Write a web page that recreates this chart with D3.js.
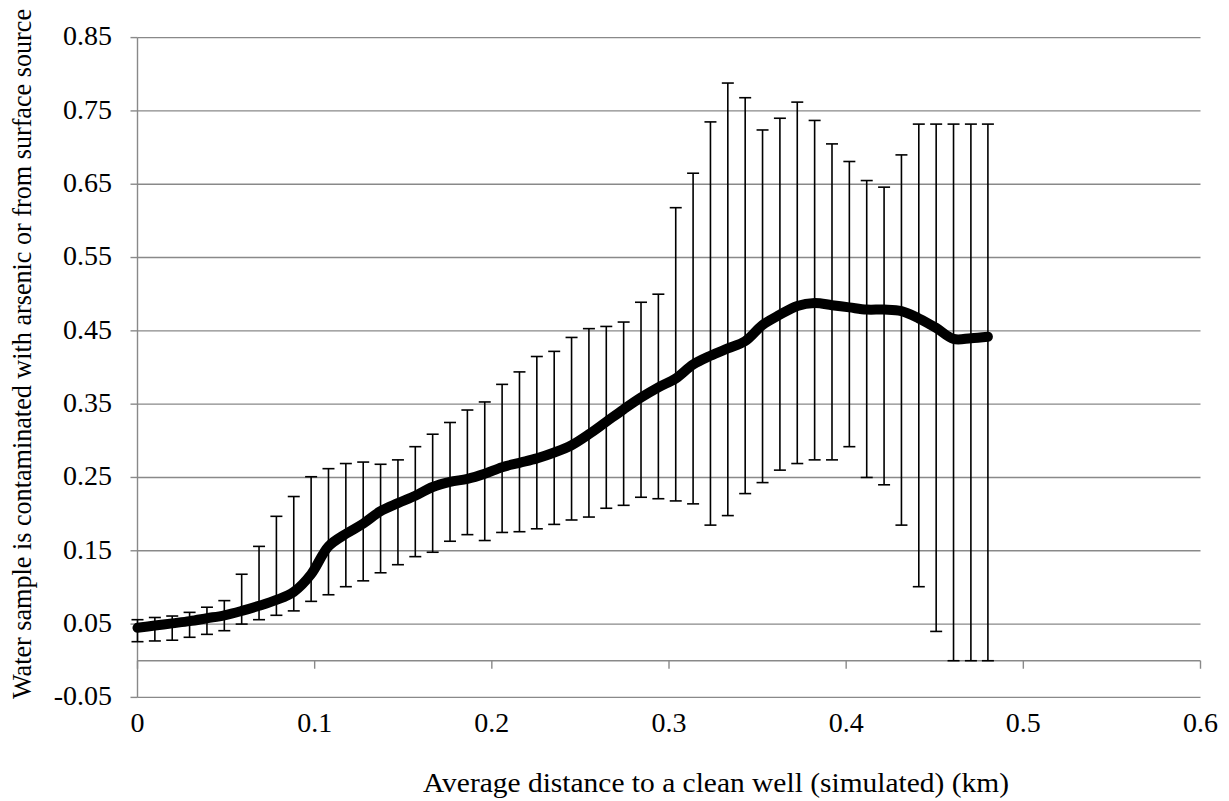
<!DOCTYPE html>
<html>
<head>
<meta charset="utf-8">
<script src="https://cdn.jsdelivr.net/npm/d3@7"></script>
<style>
body { margin: 0; background: #fff; }
svg text { font-family: "Liberation Serif", Tinos, "Times New Roman", "DejaVu Serif", serif; fill: #000; }
</style>
</head>
<body>
<svg id="chart" width="1229" height="801"></svg>
<script>
// average distance to a clean well (km), one point per simulation step
var distance = [0, 0.0098, 0.0196, 0.0294, 0.0392, 0.049, 0.0588, 0.0686, 0.0784, 0.0882,
	0.098, 0.1078, 0.1176, 0.1274, 0.1372, 0.147, 0.1568, 0.1666, 0.1764, 0.1862,
	0.196, 0.2058, 0.2156, 0.2254, 0.2352, 0.245, 0.2548, 0.2646, 0.2744, 0.2842,
	0.294, 0.3038, 0.3136, 0.3234, 0.3332, 0.343, 0.3528, 0.3626, 0.3724, 0.3822,
	0.392, 0.4018, 0.4116, 0.4214, 0.4312, 0.441, 0.4508, 0.4606, 0.4704, 0.48];

// share of contaminated samples
var meanValue = [0.045, 0.048, 0.051, 0.054, 0.058, 0.062, 0.068, 0.075, 0.083, 0.094,
	0.118, 0.156, 0.173, 0.187, 0.204, 0.215, 0.225, 0.237, 0.244, 0.248,
	0.255, 0.264, 0.270, 0.276, 0.284, 0.294, 0.309, 0.326, 0.343, 0.359,
	0.373, 0.385, 0.404, 0.416, 0.426, 0.436, 0.458, 0.472, 0.484, 0.488,
	0.485, 0.482, 0.479, 0.479, 0.477, 0.467, 0.454, 0.439, 0.440, 0.442];

// error bar ends
var upperValue = [0.056, 0.059, 0.061, 0.066, 0.073, 0.082, 0.118, 0.156, 0.197, 0.224,
	0.251, 0.262, 0.269, 0.271, 0.268, 0.274, 0.292, 0.309, 0.325, 0.342,
	0.353, 0.377, 0.394, 0.415, 0.422, 0.441, 0.453, 0.456, 0.462, 0.489,
	0.500, 0.618, 0.665, 0.735, 0.788, 0.768, 0.724, 0.740, 0.762, 0.737,
	0.705, 0.681, 0.655, 0.646, 0.690, 0.732, 0.732, 0.732, 0.732, 0.732];
var lowerValue = [0.026, 0.027, 0.028, 0.032, 0.036, 0.041, 0.050, 0.056, 0.062, 0.068,
	0.081, 0.090, 0.101, 0.109, 0.120, 0.131, 0.142, 0.148, 0.163, 0.172,
	0.164, 0.175, 0.176, 0.180, 0.186, 0.192, 0.196, 0.208, 0.212, 0.223,
	0.221, 0.218, 0.214, 0.185, 0.198, 0.228, 0.243, 0.260, 0.269, 0.274,
	0.274, 0.292, 0.250, 0.240, 0.185, 0.101, 0.040, 0.000, 0.000, 0.000];

var xTicks = [0, 0.1, 0.2, 0.3, 0.4, 0.5, 0.6];
var xTickLabels = ["0", "0.1", "0.2", "0.3", "0.4", "0.5", "0.6"];
var yTicks = [-0.05, 0.05, 0.15, 0.25, 0.35, 0.45, 0.55, 0.65, 0.75, 0.85];
var yTickLabels = ["-0.05", "0.05", "0.15", "0.25", "0.35", "0.45", "0.55", "0.65", "0.75", "0.85"];

var xTitle = "Average distance to a clean well (simulated) (km)";
var yTitle = "Water sample is contaminated with arsenic or from surface source";

var svg = d3.select("#chart");
var plotLeft = 137.5, plotRight = 1200.5, plotTop = 37.6, plotBottom = 697.4;
var gridColor = "#898989";
var serif = "'Liberation Serif', Tinos, 'Times New Roman', 'DejaVu Serif', serif";

var x = d3.scaleLinear().domain([0, 0.6]).range([plotLeft, plotRight]);
var y = d3.scaleLinear().domain([-0.05, 0.85]).range([plotBottom, plotTop]);

// horizontal gridlines
svg.append("g").selectAll("line").data(yTicks).enter().append("line")
	.attr("x1", plotLeft).attr("x2", plotRight)
	.attr("y1", function(d) { return y(d); }).attr("y2", function(d) { return y(d); })
	.attr("stroke", gridColor).attr("stroke-width", 1.4);

// y axis line + ticks on the left
svg.append("line").attr("x1", plotLeft).attr("x2", plotLeft).attr("y1", plotTop).attr("y2", plotBottom)
	.attr("stroke", gridColor).attr("stroke-width", 1.4);
svg.append("g").selectAll("line").data(yTicks).enter().append("line")
	.attr("x1", plotLeft - 7).attr("x2", plotLeft)
	.attr("y1", function(d) { return y(d); }).attr("y2", function(d) { return y(d); })
	.attr("stroke", gridColor).attr("stroke-width", 1.4);
svg.append("g").selectAll("text").data(yTicks).enter().append("text")
	.attr("x", 112).attr("y", function(d) { return y(d) - 2; })
	.attr("dy", "0.35em").attr("text-anchor", "end")
	.attr("font-family", serif).attr("font-size", 28)
	.text(function(d, i) { return yTickLabels[i]; });

// x axis sits at zero, ticks hang down
svg.append("line").attr("x1", plotLeft).attr("x2", plotRight).attr("y1", y(0)).attr("y2", y(0))
	.attr("stroke", gridColor).attr("stroke-width", 1.4);
svg.append("g").selectAll("line").data(xTicks).enter().append("line")
	.attr("x1", function(d) { return x(d); }).attr("x2", function(d) { return x(d); })
	.attr("y1", y(0)).attr("y2", y(0) + 8)
	.attr("stroke", gridColor).attr("stroke-width", 1.4);
svg.append("g").selectAll("text").data(xTicks).enter().append("text")
	.attr("x", function(d) { return x(d); }).attr("y", 722)
	.attr("dy", "0.35em").attr("text-anchor", "middle")
	.attr("font-family", serif).attr("font-size", 28)
	.text(function(d, i) { return xTickLabels[i]; });

// error bars
var bars = svg.append("g").selectAll("g").data(distance).enter().append("g");
bars.append("line")
	.attr("x1", function(d) { return x(d); }).attr("x2", function(d) { return x(d); })
	.attr("y1", function(d, i) { return y(lowerValue[i]); })
	.attr("y2", function(d, i) { return y(upperValue[i]); })
	.attr("stroke", "#000").attr("stroke-width", 1.6);
bars.append("line")
	.attr("x1", function(d) { return x(d) - 6; }).attr("x2", function(d) { return x(d) + 6; })
	.attr("y1", function(d, i) { return y(upperValue[i]); })
	.attr("y2", function(d, i) { return y(upperValue[i]); })
	.attr("stroke", "#000").attr("stroke-width", 1.6);
bars.append("line")
	.attr("x1", function(d) { return x(d) - 6; }).attr("x2", function(d) { return x(d) + 6; })
	.attr("y1", function(d, i) { return y(lowerValue[i]); })
	.attr("y2", function(d, i) { return y(lowerValue[i]); })
	.attr("stroke", "#000").attr("stroke-width", 1.6);

// smoothed mean line
var line = d3.line()
	.x(function(d) { return x(d); })
	.y(function(d, i) { return y(meanValue[i]); })
	.curve(d3.curveCatmullRom.alpha(0.5));
svg.append("path").datum(distance)
	.attr("d", line)
	.attr("fill", "none").attr("stroke", "#000").attr("stroke-width", 10)
	.attr("stroke-linecap", "round").attr("stroke-linejoin", "round");

// axis titles
svg.append("text").attr("x", 716).attr("y", 782)
	.attr("dy", "0.35em").attr("text-anchor", "middle")
	.attr("textLength", 586).attr("lengthAdjust", "spacingAndGlyphs")
	.attr("font-family", serif).attr("font-size", 28).text(xTitle);
svg.append("text")
	.attr("transform", "translate(22,354) rotate(-90)")
	.attr("dy", "0.35em").attr("text-anchor", "middle")
	.attr("textLength", 690).attr("lengthAdjust", "spacingAndGlyphs")
	.attr("font-family", serif).attr("font-size", 27).text(yTitle);
</script>
</body>
</html>
